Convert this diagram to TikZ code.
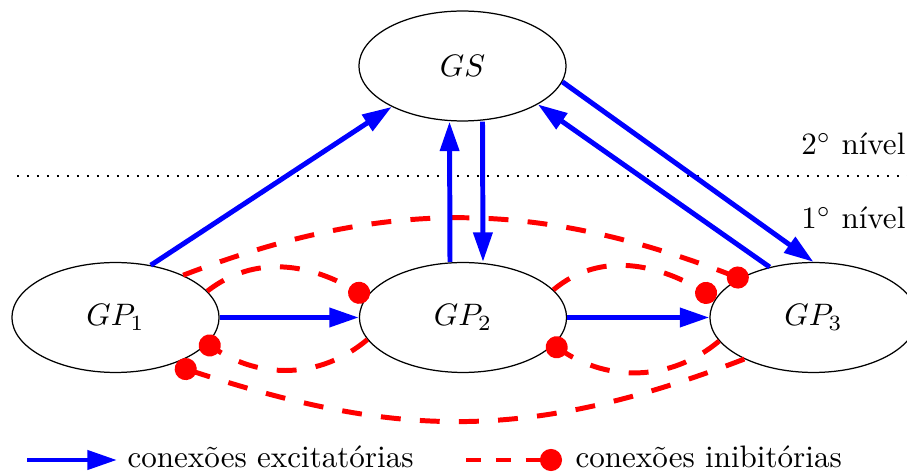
\documentclass[tikz,border=0pt]{standalone}
\usetikzlibrary{shapes.geometric,arrows.meta}
\definecolor{excblue}{RGB}{0,0,255}
\definecolor{inhred}{RGB}{255,0,0}
\begin{document}
\begin{tikzpicture}[x=0.322pt,y=0.322pt,
  group/.style={draw=black, line width=0.4pt, ellipse, minimum width=66.7pt,
    minimum height=35.4pt, inner sep=0pt},
  exc/.style={draw=excblue, line width=1.6pt, -{Triangle[length=9.5pt,width=6pt]}},
  inh/.style={draw=inhred, line width=1.6pt, dash pattern=on 6.4pt off 6.2pt,
    -{Circle[length=7.1pt]}},
  level/.style={anchor=base east, inner sep=0pt},
  legendtext/.style={anchor=base west, inner sep=0pt}
]
\useasboundingbox (0,0) rectangle (907,-475);

% neuron groups
\node[group] (gs)  at (462.5,-66)  {$GS$};
\node[group] (gp1) at (115.5,-317.5) {$GP_1$};
\node[group] (gp2) at (463,-317.5)   {$GP_2$};
\node[group] (gp3) at (813.5,-317.5) {$GP_3$};

% separation between the two levels
\coordinate (sepL) at (17,-176);
\coordinate (sepR) at (907,-176);
\draw[line width=0.65pt, dash pattern=on 0.65pt off 2.57pt] (sepL) -- (sepR);
\node[level] (lvtwo) at (906,-155) {$2^\circ$ nível};
\node[level] (lvone) at (906,-229) {$1^\circ$ nível};

% inhibitory connections
\draw[inh, shorten >=-0.9pt] (gp1.16) to[out=38,in=150] (gp2.168);
\draw[inh, shorten >=-2.6pt] (gp2.193) to[out=220,in=327] (gp1.344);
\draw[inh] (gp2.17) to[out=40,in=150] (gp3.169);
\draw[inh, shorten >=-2.3pt] (gp3.194) to[out=220,in=327] (gp2.343);
\draw[inh, shorten >=-2.9pt] (gp1.32) to[out=21,in=159] (gp3.152);
\draw[inh, shorten >=1.3pt] (gp3.211) to[out=201,in=342,looseness=1.05] (gp1.320);

% excitatory connections
\draw[exc] (gp1.56) -- (gs.210);
\draw[exc] ([shift={(-13,0)}]gp2.north) -- ([shift={(-13,0)}]gs.south);
\draw[exc] ([shift={(20,0)}]gs.south) -- ([shift={(20,0)}]gp2.north);
\draw[exc] (gs.-9) -- (gp3.north);
\draw[exc] (gp3.131) -- (gs.-27);
\draw[exc] (gp1.east) -- (gp2.west);
\draw[exc] (gp2.east) -- (gp3.west);

% legend
\coordinate (lexA) at (27,-460);
\coordinate (lexB) at (117,-460);
\draw[exc] (lexA) -- (lexB);
\node[legendtext] (lexT) at (127,-468) {conexões excitatórias};
\coordinate (linA) at (466,-460);
\coordinate (linB) at (562,-460);
\draw[inh, dash pattern=on 4.8pt off 4.8pt] (linA) -- (linB);
\node[legendtext] (linT) at (575,-468) {conexões inibitórias};
\end{tikzpicture}
\end{document}
